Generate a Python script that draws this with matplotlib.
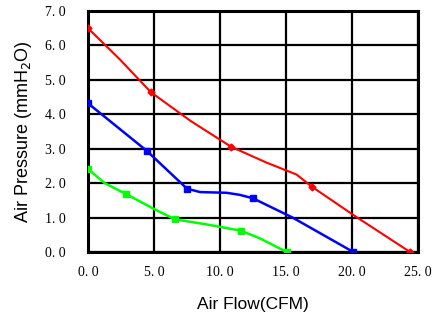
import matplotlib
matplotlib.use('Agg')
import matplotlib.pyplot as plt

# curve points
red_x = [0.0, 2.4, 4.77, 7.8, 10.83, 13.5, 15.8, 16.95, 20.2, 24.4]
red_y = [6.5, 5.6, 4.64, 3.8, 3.06, 2.6, 2.25, 1.9, 1.05, 0.0]
blue_x = [0.0, 4.45, 6.5, 7.5, 8.5, 10.5, 11.5, 12.5, 15.5, 20.1]
blue_y = [4.32, 2.94, 2.2, 1.84, 1.74, 1.72, 1.66, 1.56, 1.0, 0.0]
green_x = [0.0, 1.27, 2.9, 5.0, 6.57, 9.0, 11.57, 13.0, 15.05]
green_y = [2.41, 2.0, 1.68, 1.25, 0.95, 0.8, 0.62, 0.4, 0.0]

# marked points
red_mx = [0.0, 4.77, 10.83, 16.95, 24.4]
red_my = [6.5, 4.64, 3.06, 1.9, 0.0]
blue_mx = [0.0, 4.45, 7.5, 12.5, 20.1]
blue_my = [4.32, 2.94, 1.84, 1.56, 0.0]
green_mx = [0.0, 2.9, 6.57, 11.57, 15.05]
green_my = [2.41, 1.68, 0.95, 0.62, 0.0]

xticks = [0, 5, 10, 15, 20, 25]
yticks = [0, 1, 2, 3, 4, 5, 6, 7]

fig = plt.figure(figsize=(4.36, 3.24), dpi=100)
ax = fig.add_axes([0.2018, 0.2222, 0.7569, 0.7438])

ax.plot(red_x, red_y, color='#ff0000', lw=1.5, zorder=3)
ax.plot(red_mx, red_my, 'D', color='#ff0000', ms=3.5, zorder=4)
ax.plot(blue_x, blue_y, color='#0000ff', lw=1.8, zorder=3)
ax.plot(blue_mx, blue_my, 's', color='#0000ff', ms=4.5, zorder=4)
ax.plot(green_x, green_y, color='#00ff00', lw=1.8, zorder=3)
ax.plot(green_mx, green_my, 's', color='#00ff00', ms=4, zorder=4)

ax.set_xlim(0, 25)
ax.set_ylim(0, 7)
ax.set_xticks(xticks)
ax.set_yticks(yticks)
ax.set_xticklabels(['%d. 0' % v for v in xticks], family='Liberation Serif', fontsize=10)
ax.set_yticklabels(['%d. 0' % v for v in yticks], family='Liberation Serif', fontsize=10)
ax.tick_params(length=0)
ax.tick_params(axis='x', pad=10)
ax.tick_params(axis='y', pad=16)
ax.grid(True, color='black', lw=1.6)
ax.set_axisbelow(True)
for s in ax.spines.values():
    s.set_linewidth(2.2)

ax.set_xlabel('Air Flow(CFM)', family='Liberation Sans', fontsize=12.5, labelpad=13)
ax.set_ylabel('Air Pressure (mmH$_2$O)', family='Liberation Sans', fontsize=13, labelpad=8)

fig.savefig('out.png', dpi=100)
